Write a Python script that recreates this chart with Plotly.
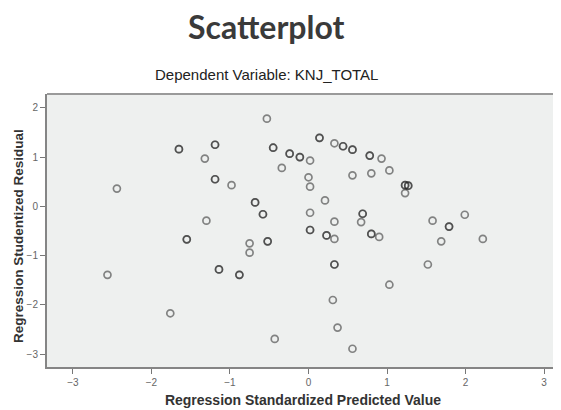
import plotly.graph_objects as go

# Regression standardized predicted value (x) and studentized residual (y).
# Darker rings in the reference are overlapping (repeated) observations,
# so those observations appear twice in the lists.
pred = [-2.56, -2.44, -1.76, -1.65, -1.65, -1.55, -1.55, -1.32, -1.30, -1.19, -1.19,
        -1.19, -1.19, -1.14, -1.14, -0.98, -0.88, -0.88, -0.75, -0.75, -0.68, -0.68,
        -0.58, -0.58, -0.53, -0.52, -0.52, -0.45, -0.45, -0.43, -0.34, -0.24, -0.24,
        -0.11, -0.11, 0.00, 0.02, 0.02, 0.02, 0.02, 0.02, 0.14, 0.14, 0.21, 0.23, 0.23,
        0.31, 0.33, 0.33, 0.33, 0.33, 0.33, 0.37, 0.44, 0.44, 0.56, 0.56, 0.56, 0.56,
        0.67, 0.69, 0.69, 0.78, 0.78, 0.80, 0.80, 0.80, 0.90, 0.93, 1.03, 1.03, 1.23,
        1.23, 1.27, 1.27, 1.23, 1.52, 1.58, 1.69, 1.79, 1.79, 1.99, 2.22]
resid = [-1.39, 0.36, -2.17, 1.16, 1.16, -0.67, -0.67, 0.97, -0.29, 1.25, 1.25,
         0.55, 0.55, -1.28, -1.28, 0.43, -1.39, -1.39, -0.75, -0.94, 0.08, 0.08,
         -0.16, -0.16, 1.78, -0.71, -0.71, 1.19, 1.19, -2.69, 0.78, 1.07, 1.07,
         1.00, 1.00, 0.59, 0.93, 0.40, -0.13, -0.48, -0.48, 1.39, 1.39, 0.12, -0.59, -0.59,
         -1.90, 1.28, -0.31, -0.66, -1.18, -1.18, -2.46, 1.22, 1.22, 1.15, 1.15, 0.63, -2.89,
         -0.32, -0.15, -0.15, 1.03, 1.03, 0.67, -0.56, -0.56, -0.62, 0.97, 0.73, -1.59, 0.43,
         0.43, 0.42, 0.42, 0.27, -1.18, -0.29, -0.71, -0.41, -0.41, -0.17, -0.66]

x_ticks = [-3, -2, -1, 0, 1, 2, 3]
y_ticks = [-3, -2, -1, 0, 1, 2]

title_text = "Scatterplot"
subtitle_text = "Dependent Variable: KNJ_TOTAL"
x_title = "Regression Standardized Predicted Value"
y_title = "Regression Studentized Residual"

fig = go.Figure(go.Scatter(
    x=pred, y=resid, mode="markers",
    marker=dict(symbol="circle-open", size=7, color="rgba(40,40,40,0.55)",
                line=dict(width=1.7)),
    hoverinfo="x+y", showlegend=False,
))

axis_common = dict(
    showgrid=False, zeroline=False, showline=True, linecolor="#858585", linewidth=2,
    ticks="outside", ticklen=5, tickcolor="#777", tickwidth=1, automargin=False,
    tickfont=dict(family="Liberation Sans, Arial, sans-serif", size=10, color="#666"),
)

# The page body adds an 8px offset, so the figure is 8px smaller than the window.
fig.update_layout(
    width=553, height=402,
    margin=dict(l=39, r=2, t=86, b=43),
    paper_bgcolor="white", plot_bgcolor="#eef0ef",
    xaxis=dict(range=[-3.33, 3.19], tickvals=x_ticks, mirror=False,
               title=dict(text=x_title, standoff=8,
                          font=dict(family="Liberation Sans, Arial, sans-serif", size=14, color="#333",
                                    weight="bold")),
               **axis_common),
    yaxis=dict(range=[-3.26, 2.28], tickvals=y_ticks, mirror=False, **axis_common),
    annotations=[
        dict(text=title_text, xref="paper", yref="paper", x=0.428, y=1, yshift=47,
             xanchor="center", yanchor="bottom", showarrow=False, borderpad=0,
             font=dict(family="Lato, sans-serif", size=32, color="#3a3a3a", weight="bold")),
        dict(text=subtitle_text, xref="paper", yref="paper", x=0.428, y=1, yshift=9,
             xanchor="center", yanchor="bottom", showarrow=False,
             font=dict(family="Liberation Sans, Arial, sans-serif", size=15, color="#222")),
        dict(text=y_title, xref="paper", yref="paper", x=0, y=0.48, xshift=-28,
             xanchor="center", yanchor="middle", textangle=-90, showarrow=False,
             font=dict(family="Liberation Sans, Arial, sans-serif", size=13.5, color="#333",
                       weight="bold")),
    ],
    shapes=[
        dict(type="line", xref="paper", yref="paper", x0=0, x1=1, y0=1, y1=1,
             line=dict(color="#9a9a9a", width=2)),
    ],
)

fig.write_html("out.html")
